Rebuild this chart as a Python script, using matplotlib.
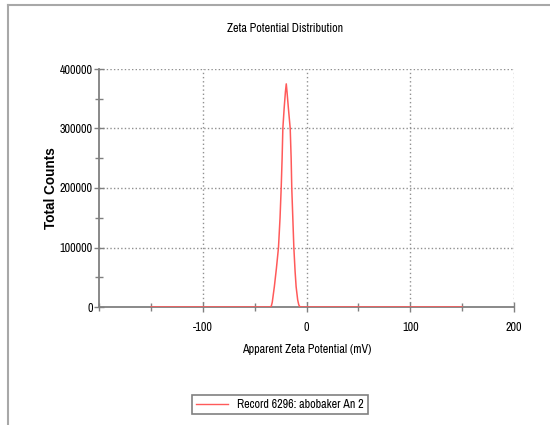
import matplotlib.pyplot as plt
from matplotlib.lines import Line2D

# valores
zeta_mv = [-150, -60, -36, -34, -33, -31, -29, -27, -25.5, -24.4, -23.5, -22.8, -21.5, -20.3, -19.5,
           -18.8, -17.5, -15.7, -14.8, -14.2, -13.2, -12.2, -11, -10, -8.5, -7.5, -6.7, -5, 60, 150]
counts = [0, 0, 0, 1000, 8000, 34000, 65000, 100000, 150000, 200000, 250000, 300000, 335000, 362000, 375000,
          362000, 335000, 300000, 250000, 200000, 150000, 100000, 60000, 34000, 12000, 4000, 1000, 0, 0, 0]

x_ticks = [-100, 0, 100, 200]
y_ticks = [0, 100000, 200000, 300000, 400000]
legend_label = 'Record 6296: abobaker An 2'

plt.rcParams['font.family'] = ['Archivo Narrow', 'Liberation Sans', 'DejaVu Sans']
plt.rcParams['axes.unicode_minus'] = False
fs = 8.7

fig = plt.figure(figsize=(5.5, 4.25), dpi=100)
ax = fig.add_axes([99 / 550, 1 - 307 / 425, (514 - 99) / 550, (307 - 69) / 425])

gray = '#808080'
red = '#ff5a5a'
ax.plot(zeta_mv, counts, color=red, lw=1.1, zorder=3)

ax.set_xlim(-200, 200)
ax.set_ylim(0, 400000)
ax.set_xticks(x_ticks)
ax.set_xticks([-200, -150, -50, 50, 150], minor=True)
ax.set_yticks(y_ticks)
ax.set_yticks([50000, 150000, 250000, 350000], minor=True)
ax.set_yticklabels([str(v) for v in y_ticks])

for v in x_ticks:
    ax.axvline(v, color='#909090', ls=(0, (1, 2)), lw=1.0, zorder=1)
for v in y_ticks[1:]:
    ax.axhline(v, color='#909090', ls=(0, (1, 1.6)), lw=1.0, zorder=1)

for s in ['top', 'right']:
    ax.spines[s].set_visible(False)
for s in ['left', 'bottom']:
    ax.spines[s].set_color(gray)
    ax.spines[s].set_linewidth(1.3)

ax.tick_params(which='both', direction='inout', color=gray, width=1.0, labelsize=fs)
ax.tick_params(which='major', length=7)
ax.tick_params(which='minor', length=6)
ax.tick_params(axis='x', pad=7)
ax.tick_params(axis='y', pad=1)

ax.set_xlabel('Apparent Zeta Potential (mV)', fontsize=fs, labelpad=8)
# Archivo Narrow sem negrito instalado -> Liberation Sans para o rótulo y
ax.set_ylabel('Total Counts', fontsize=9.8, fontweight='bold', labelpad=1,
              family=['Liberation Sans', 'DejaVu Sans'])
fig.text(285 / 550, 1 - 28 / 425, 'Zeta Potential Distribution', ha='center', va='center', fontsize=fs)

# moldura cinza do gráfico original
fig.add_artist(Line2D([8 / 550, 8 / 550], [0, 1 - 5 / 425], color='#a8a8a8', lw=1.5))
fig.add_artist(Line2D([8 / 550, 1], [1 - 5 / 425, 1 - 5 / 425], color='#a8a8a8', lw=1.5))

leg = fig.legend([Line2D([], [], color=red, lw=1.0)], [legend_label],
                 loc='center', bbox_to_anchor=(280 / 550, 1 - 404.5 / 425), fontsize=fs,
                 fancybox=False, framealpha=1, edgecolor=gray, handlelength=2.6,
                 borderpad=0.35, handletextpad=0.8, borderaxespad=0)
leg.get_frame().set_linewidth(1.2)

fig.savefig('out.png', dpi=100)
